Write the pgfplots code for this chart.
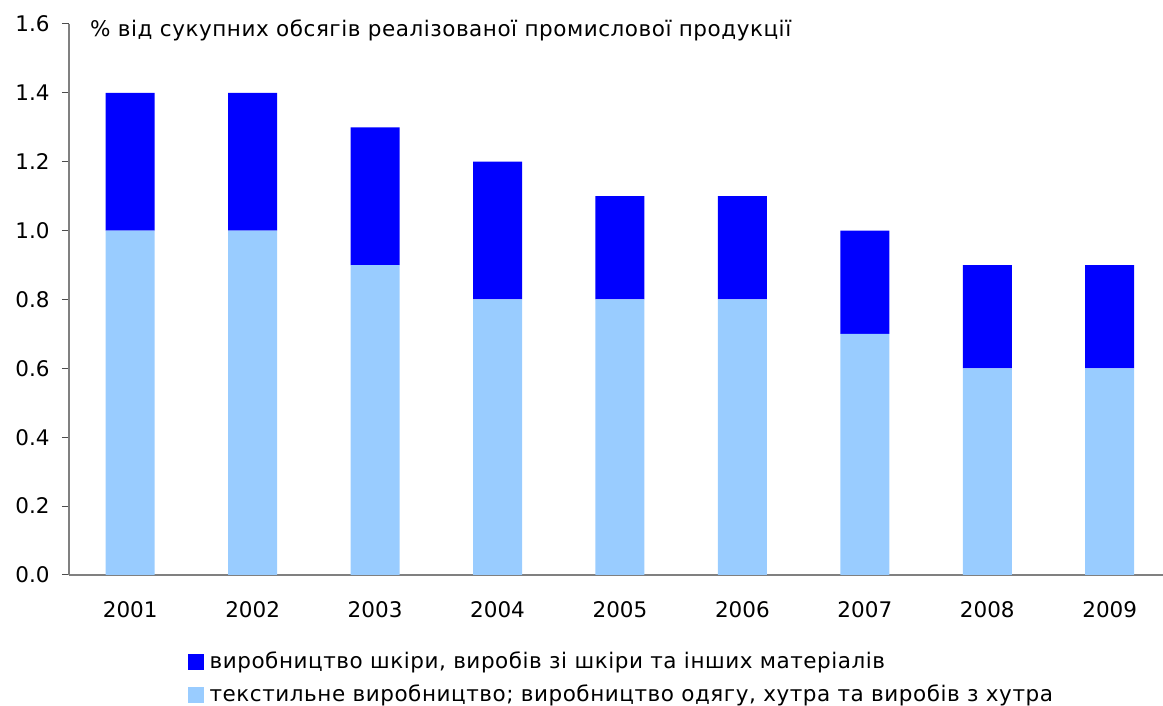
\documentclass[border=0pt]{standalone}
\usepackage{fontspec}
\setmainfont{DejaVu Sans}
\newfontfamily\txtfont[LetterSpace=2.5]{DejaVu Sans}
\usepackage{pgfplots}
\pgfplotsset{compat=1.18}
\definecolor{darkb}{RGB}{0,0,255}
\definecolor{lightb}{RGB}{153,204,255}
\definecolor{axgray}{RGB}{128,128,128}
\newcommand{\fs}{\fontsize{21.5}{25}\selectfont}
\begin{document}
\fs
\begin{tikzpicture}[x=1pt,y=1pt]
\path[use as bounding box] (0,0) rectangle (1163,706);
\begin{axis}[
  at={(69pt,131pt)}, anchor=south west,
  scale only axis, width=1102pt, height=551pt,
  xmin=-0.5, xmax=8.5, ymin=0, ymax=1.6,
  ybar stacked, bar width=49pt,
  axis x line=bottom, axis y line=left,
  axis line style={axgray, line width=1.2pt, -},
  xtick={0,...,8},
  xticklabels={2001,2002,2003,2004,2005,2006,2007,2008,2009},
  major x tick style={draw=none},
  extra x ticks={0.5,1.5,2.5,3.5,4.5,5.5,6.5,7.5},
  extra x tick labels={},
  extra x tick style={tick style={draw=black!70, line width=1pt}, major tick length=7pt, tick align=outside},
  ytick={0,0.2,...,1.6},
  y tick style={draw=black!70, line width=1pt},
  tick align=outside, major tick length=7pt,
  yticklabel style={/pgf/number format/fixed, /pgf/number format/fixed zerofill, /pgf/number format/precision=1, xshift=-5pt},
  xticklabel style={yshift=-12pt},
  /pgf/number format/assume math mode=true,
  tick label style={font=\fs},
  reverse legend,
  legend style={draw=none, at={(0.1075,-0.136)}, anchor=north west, font=\fs\txtfont, row sep=9pt, inner sep=0pt, legend cell align=left,
    /tikz/every odd column/.append style={column sep=4pt}},
  legend image code/.code={\fill[#1] (0pt,-8pt) rectangle (16pt,8pt);},
]
\addplot[fill=lightb, draw=none] coordinates {(0,1.0) (1,1.0) (2,0.9) (3,0.8) (4,0.8) (5,0.8) (6,0.7) (7,0.6) (8,0.6)};
\addplot[fill=darkb, draw=none] coordinates {(0,0.4) (1,0.4) (2,0.4) (3,0.4) (4,0.3) (5,0.3) (6,0.3) (7,0.3) (8,0.3)};
\legend{{текстильне виробництво; виробництво одягу, хутра та виробів з хутра},{виробництво шкіри, виробів зі шкіри та інших матеріалів}}
\end{axis}
\node[anchor=west, inner sep=0pt] at (90,676) {\txtfont\% від сукупних обсягів реалізованої промислової продукції};
\end{tikzpicture}
\end{document}
